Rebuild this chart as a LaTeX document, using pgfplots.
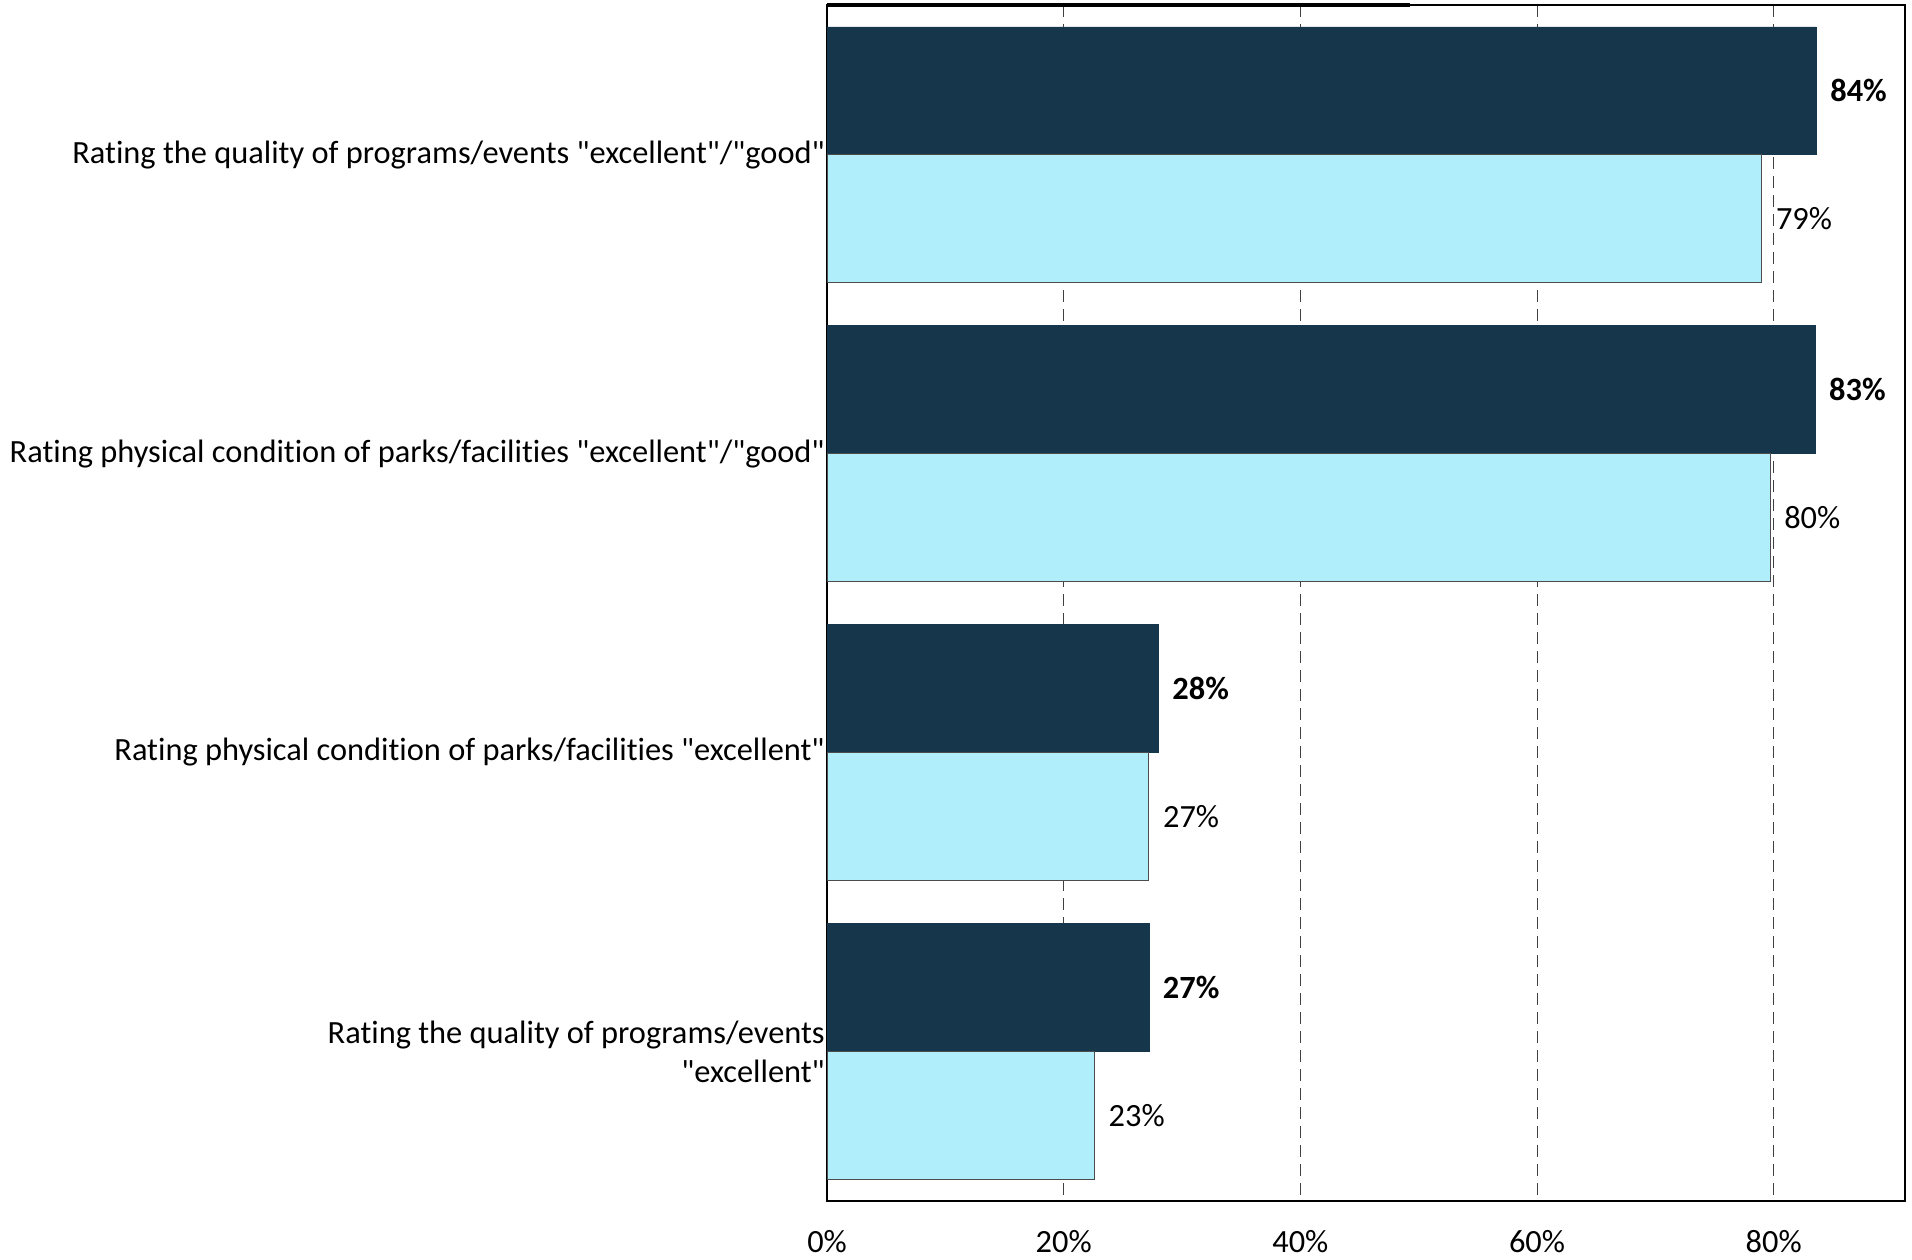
\documentclass[border=0pt]{standalone}
\usepackage{pgfplots}
\usepackage{pgfplotstable}
\pgfplotsset{compat=1.18}
\usepackage{fontspec}
\setmainfont{Carlito}[Ligatures={TeXOff,NoCommon}]
\definecolor{darkbar}{RGB}{22,54,75}
\definecolor{lightbar}{RGB}{176,238,252}
\newcommand{\dq}{{\char34}}

\pgfplotstableread{
cat val lab
0 83.6 84
1 83.5 83
2 28.0 28
3 27.2 27
}\darkdata
\pgfplotstableread{
cat val lab
0 79.0 79
1 79.7 80
2 27.2 27
3 22.6 23
}\lightdata

\begin{document}
\begin{tikzpicture}[font=\fontsize{16.2}{19.5}\selectfont]
\begin{axis}[
  width=539pt, height=598pt,
  scale only axis,
  xbar,
  bar width=0.427,
  xmin=0, xmax=91.1,
  ymin=-0.5, ymax=3.5,
  y dir=reverse,
  ytick={0,1,2,3},
  yticklabels={{Rating the quality of programs/events \dq excellent\dq/\dq good\dq},
               {Rating physical condition of parks/facilities \dq excellent\dq/\dq good\dq},
               {Rating physical condition of parks/facilities \dq excellent\dq},
               {Rating the quality of programs/events\\\dq excellent\dq}},
  yticklabel style={align=right, inner sep=1pt, font=\fontsize{16.2}{19.5}\selectfont},
  xtick={0,20,40,60,80},
  xticklabels={0\%,20\%,40\%,60\%,80\%},
  xticklabel style={font=\fontsize{16.2}{19.5}\selectfont, yshift=-11pt},
  major tick length=0pt,
  xmajorgrids=true,
  major grid style={dash pattern=on 6pt off 3.5pt, black!75, line width=0.5pt},
  axis line style={line width=1.2pt},
  clip=false,
  point meta=explicit symbolic,
  nodes near coords={\pgfplotspointmeta\%},
]
\addplot[fill=darkbar, draw=darkbar, bar shift=-0.2135,
  nodes near coords style={font=\fontsize{16.2}{19.5}\selectfont\bfseries, anchor=west, xshift=3.5pt}]
  table[x=val, y=cat, meta=lab]{\darkdata};
\addplot[fill=lightbar, draw=black!70, line width=0.5pt, bar shift=0.2135,
  nodes near coords style={font=\fontsize{16.2}{19.5}\selectfont, anchor=west, xshift=3.5pt}]
  table[x=val, y=cat, meta=lab]{\lightdata};
\draw[line width=1.8pt] (axis cs:0,-0.5) -- (axis cs:49.3,-0.5);
\path (axis cs:-69.9,3.688) -- (axis cs:91.69,-0.517);
\end{axis}
\end{tikzpicture}
\end{document}
